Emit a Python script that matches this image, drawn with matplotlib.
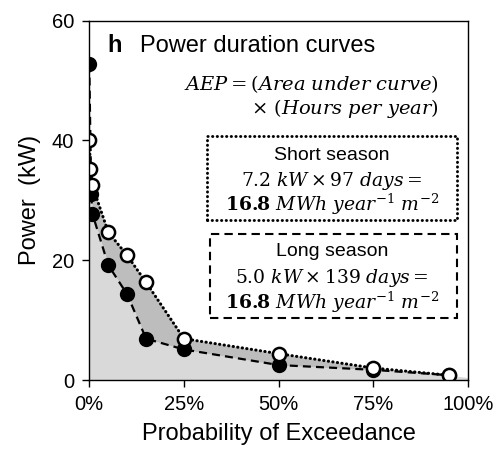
import matplotlib
matplotlib.use("Agg")
import matplotlib.pyplot as plt
import numpy as np
from matplotlib.patches import Rectangle
from matplotlib.ticker import FuncFormatter

plt.rcParams['font.family'] = ['Liberation Sans', 'DejaVu Sans']
plt.rcParams['mathtext.fontset'] = 'dejavuserif'

# power duration curves (x = probability of exceedance in %)
prob_short = [0, 0.3, 0.8, 5, 10, 15, 25, 50, 75, 95]
power_short = [40.0, 35.3, 32.5, 24.7, 20.8, 16.3, 6.9, 4.4, 2.0, 0.8]
prob_long = [0, 0.5, 0.8, 5, 10, 15, 25, 50, 75, 95]
power_long = [52.7, 31.0, 27.8, 19.2, 14.3, 6.9, 5.1, 2.5, 1.7, 0.8]
tail_prob, tail_power = 100, 0.4

x_ticks = [0, 25, 50, 75, 100]
y_ticks = [0, 20, 40, 60]

fig = plt.figure(figsize=(4.98, 4.51), dpi=100)
ax = fig.add_axes([0.1793, 0.1574, 0.7605, 0.7967])

# shading
xl = prob_long + [tail_prob]
yl = power_long + [tail_power]
ax.fill_between(xl, yl, 0, color='#d9d9d9', lw=0, zorder=1)
grid = np.union1d(prob_short, prob_long)
ys = np.interp(grid, prob_short, power_short)
yg = np.interp(grid, prob_long, power_long)
ax.fill_between(grid, yg, ys, where=ys >= yg, interpolate=True,
                color='#bdbdbd', lw=0, zorder=1)

ax.plot(prob_long, power_long, color='black', lw=1.6, dashes=(3.6, 2.3),
        marker='o', ms=9.5, mfc='black', mec='black', mew=1.5, zorder=3)
ax.plot(prob_short, power_short, color='black', lw=2.2,
        linestyle=(0, (0.1, 1.4)), dash_capstyle='round',
        marker='o', ms=9.5, mfc='white', mec='black', mew=1.8, zorder=4)

ax.set_xlim(0, 100)
ax.set_ylim(0, 60)
ax.set_xticks(x_ticks)
ax.set_yticks(y_ticks)
ax.xaxis.set_major_formatter(FuncFormatter(lambda v, p: '%d%%' % v))
ax.tick_params(direction='out', length=5, width=1, labelsize=14.5, pad=6)
for s in ax.spines.values():
    s.set_linewidth(1.0)
    s.set_zorder(5)

ax.set_xlabel('Probability of Exceedance', fontsize=17, labelpad=6)
ax.set_ylabel('Power  (kW)', fontsize=17, labelpad=8)

ax.text(4.7, 55.8, 'h', fontsize=17, fontweight='bold', va='center')
ax.text(13.4, 55.8, 'Power duration curves', fontsize=17, va='center')

ax.text(92.4, 49.5, r'$AEP = (Area\ under\ curve)$', fontsize=14,
        ha='right', va='center')
ax.text(92.4, 45.3, r'$\times\ (Hours\ per\ year)$', fontsize=14,
        ha='right', va='center')

ax.add_patch(Rectangle((31.1, 26.7), 66.1, 14.0, fill=False, ec='black',
                       lw=2.1, linestyle=(0, (0.1, 1.5)), capstyle='round',
                       zorder=6))
ax.text(64.1, 37.5, 'Short season', fontsize=14, ha='center', va='center')
ax.text(64.1, 33.3, r'$7.2\ kW \times 97\ days =$', fontsize=13.5,
        ha='center', va='center')
ax.text(64.1, 29.4, r'$\mathbf{16.8}\ MWh\ year^{-1}\ m^{-2}$', fontsize=13.5,
        ha='center', va='center')

ax.add_patch(Rectangle((31.9, 10.3), 65.2, 14.15, fill=False, ec='black',
                       lw=1.5, linestyle=(0, (4, 2.5)), zorder=6))
ax.text(64.1, 21.5, 'Long season', fontsize=14, ha='center', va='center')
ax.text(64.1, 17.0, r'$5.0\ kW \times 139\ days =$', fontsize=13.5,
        ha='center', va='center')
ax.text(64.1, 13.0, r'$\mathbf{16.8}\ MWh\ year^{-1}\ m^{-2}$', fontsize=13.5,
        ha='center', va='center')

fig.savefig('out.png', dpi=100)
